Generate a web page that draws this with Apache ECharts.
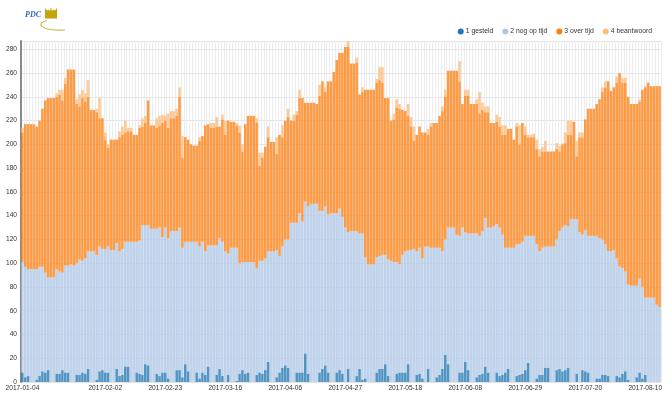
<!DOCTYPE html>
<html><head><meta charset="utf-8">
<script src="https://cdn.jsdelivr.net/npm/echarts@6/dist/echarts.min.js"></script>
<style>html,body{margin:0;padding:0;background:#fff}#c{width:672px;height:394px}</style>
</head><body><div id="c"></div>
<script>
// Daily categories start here (one bar per day)
const START_DATE = '2017-01-04';
const TICK_LABELS = ['2017-01-04','2017-02-02','2017-02-23','2017-03-16','2017-04-06','2017-04-27',
  '2017-05-18','2017-06-08','2017-06-29','2017-07-20','2017-08-10'];
const SERIES_NAMES = ['1 gesteld','2 nog op tijd','3 over tijd','4 beantwoord'];

const gesteld = [8,4,5,0,0,
  2,5,9,8,10,0,0, 7,7,10,8,8,0,0, 6,6,8,7,11,0,0, 2,9,10,8,8,0,0, 11,5,6,13,13,0,0,
  8,7,6,15,14,0,0, 7,5,8,8,3,0,0, 10,10,4,15,9,0,0, 8,3,8,6,13,0,0, 6,11,5,0,6,0,0,
  1,7,10,7,8,0,0, 6,8,7,10,17,0,0, 4,8,12,14,12,0,0, 8,8,8,24,7,0,0, 0,8,11,14,8,0,0,
  8,10,7,0,11,0,0, 5,11,2,3,0,0,0, 8,11,11,15,5,0,0, 7,8,8,8,15,0,0, 6,7,3,0,11,0,0,
  4,6,11,23,15,0,0, 0,8,8,17,10,0,0, 4,6,7,13,8,0,0, 8,5,6,8,11,0,0, 5,6,7,10,16,0,0,
  3,6,6,12,12,0,0, 10,11,9,10,12,0,0, 7,0,10,9,8,0,0, 3,3,6,6,5,0,0, 5,4,7,9,2,0,0,
  4,8,3,6,0,0,0, 0,0];

const nogOpTijd = [93,93,90,95,95,
  93,92,88,84,78,88,88, 88,86,82,90,90,99,98, 94,97,94,97,99,110,110, 105,105,102,104,106,111,111,
  106,105,106,105,105,118,118, 110,112,126,117,118,129,129, 122,125,114,122,118,127,127,
  117,120,109,103,109,118,118, 110,111,110,104,102,115,115, 109,110,113,110,102,113,113,
  112,93,91,94,93,101,101, 90,94,95,94,93,110,110, 107,98,102,106,108,134,134,
  126,134,127,128,141,150,150, 150,136,133,134,133,142,142, 134,136,132,130,115,127,127,
  122,114,123,102,99,99,99, 97,95,96,92,98,102,101, 94,91,99,102,96,111,112,
  104,106,101,114,103,113,113, 109,107,99,97,115,130,130, 124,115,122,109,115,125,125,
  121,117,120,125,122,130,131, 125,125,118,105,102,113,113, 111,110,111,113,107,123,123,
  113,104,107,102,102,114,114, 110,116,121,122,119,137,137, 130,126,114,119,115,123,123,
  120,118,114,110,105,110,111, 99,93,89,84,80,81,81, 77,79,77,65,71,71,71, 65,63];

const overTijd = [109,120,122,122,122,
  120,123,133,145,151,151,151, 145,149,145,153,165,164,165, 134,129,137,132,130,119,119,
  120,108,110,92,83,93,93, 87,96,96,92,93,93,90, 90,95,83,86,105,87,87, 85,86,96,90,93,95,95,
  97,110,76,88,86,82,81, 81,89,89,106,102,99,99, 100,94,103,98,112,106,106,
  103,110,93,116,123,123,123, 122,80,87,94,96,92,92, 81,102,92,100,103,86,86,
  91,97,104,83,87,85,85, 84,97,109,96,112,111,119, 129,131,138,152,156,141,141,
  142,117,119,141,147,147,147, 147,148,145,132,136,118,120, 130,131,122,118,113,104,91,
  98,102,106,96,94,102,105, 105,111,118,120,132,132,132, 138,130,104,115,116,109,109,
  109,103,102,89,97,88,87, 86,85,84,95,100,100,91, 99,84,100,85,83,83,83,
  80,80,81,80,80,80,80, 76,67,70,69,77,71,82, 53,80,82,93,107,107,107,
  111,117,124,132,143,135,137, 148,163,156,159,158,153,153, 153,149,166,177,181,178,178, 184,186];

const beantwoord = [4,0,0,0,0,
  0,0,0,0,0,0,0, 3,4,9,5,0,0,0, 4,10,7,7,14,0,0, 3,17,0,6,3,0,0, 0,5,7,10,3,3,0,
  0,2,7,6,0,0,0, 8,8,7,4,12,6,6, 6,8,18,0,0,0,0, 0,3,0,0,0,4,4, 8,0,4,12,0,0,0,
  2,6,6,0,0,0,0, 4,11,4,0,9,0,0, 14,0,10,0,7,0,5, 3,7,0,0,0,0,0, 0,9,0,4,0,0,0,
  0,0,0,0,5,0,0, 4,0,4,0,0,0,0, 3,11,13,0,0,0,5, 7,4,0,0,10,8,12, 0,0,0,0,5,3,0,
  0,0,4,6,0,0,0, 0,17,0,5,5,0,0, 4,18,6,5,5,0,0, 6,8,8,8,0,0,0, 3,16,0,7,2,2,3,
  8,6,4,9,0,0,0, 5,5,1,9,12,12,0, 13,4,4,0,0,0,0, 0,0,4,5,0,0,0, 5,0,4,4,0,0,0,
  0,2,0,1,0,0,0, 0,0];

// one category per day, starting at START_DATE
const categories = [];
(function () {
  const p = START_DATE.split('-').map(Number);
  const t0 = Date.UTC(p[0], p[1] - 1, p[2]);
  for (let i = 0; i < gesteld.length; i++) {
    categories.push(new Date(t0 + i * 86400000).toISOString().slice(0, 10));
  }
})();

const FONT = '"Liberation Sans", Arial, sans-serif';
const FS = 6.6;
const COLORS = ['#1f77b4', '#aec7e8', '#ff7f0e', '#ffbb78'];
const values = [gesteld, nogOpTijd, overTijd, beantwoord];

const chart = echarts.init(document.getElementById('c'), null, { renderer: 'canvas' });
chart.setOption({
  animation: false,
  textStyle: { fontFamily: FONT },
  color: COLORS,
  legend: {
    data: SERIES_NAMES,
    right: 15, top: 23,
    icon: 'circle', itemWidth: 6, itemHeight: 6, itemGap: 9,
    itemStyle: { opacity: 1 },
    textStyle: { fontSize: 6.8, color: '#333', padding: [0, 0, 0, -3] }
  },
  grid: { left: 21, right: 11, top: 41, bottom: 12, containLabel: false },
  xAxis: {
    type: 'category', data: categories, boundaryGap: true,
    axisLine: { show: false }, axisTick: { show: false },
    axisLabel: {
      interval: function (i, v) { return TICK_LABELS.indexOf(v) >= 0; },
      fontSize: FS, color: '#333', margin: 3
    },
    splitLine: { show: true, interval: 0, lineStyle: { color: '#ececec', width: 1 } }
  },
  yAxis: {
    type: 'value', min: 0, max: 287, interval: 20,
    axisLine: { show: true, lineStyle: { color: '#8a8a8a', width: 2 } },
    axisTick: { show: false },
    axisLabel: { fontSize: FS, color: '#333', margin: 4, showMaxLabel: false },
    splitLine: { show: true, lineStyle: { color: '#e3e3e3', width: 1 } }
  },
  series: SERIES_NAMES.map(function (name, k) {
    return {
      name: name, type: 'bar', stack: 'total', data: values[k],
      barCategoryGap: '12%',
      itemStyle: { color: COLORS[k], opacity: 0.78 },
      emphasis: { disabled: true }
    };
  }),
  graphic: [
    { type: 'text', left: 25, top: 11,
      style: { text: 'PDC', font: 'italic bold 8px "Liberation Serif", "DejaVu Serif", serif', fill: '#2f6db5' } },
    { type: 'polygon',
      shape: { points: [[45,18.5],[45,8],[47,10.5],[48.5,9.5],[50,11],[51,7],[52,11],[53.5,9.5],[55,10.5],[57,8],[57,18.5]] },
      style: { fill: '#c4a30c' } },
    { type: 'bezierCurve',
      shape: { x1: 47, y1: 20.5, cpx1: 36, cpy1: 23, cpx2: 39, cpy2: 31, x2: 65, y2: 30 },
      style: { stroke: '#cdb849', lineWidth: 1.1, fill: null } }
  ]
});
</script>
</body></html>
